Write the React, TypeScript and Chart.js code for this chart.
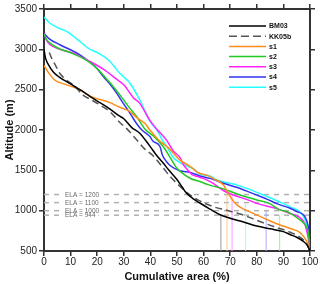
import React, { useEffect, useRef } from "react";
import { Chart, registerables } from "chart.js";

Chart.register(...registerables);

// [cumulative area %, altitude m]
const BM03: [number, number][] = [
  [0, 3000], [0.5, 2900], [1.5, 2820], [3.5, 2720], [6, 2650], [8.5, 2600], [12, 2530],
  [15, 2470], [18, 2400], [21, 2340], [24.8, 2260], [28, 2180], [30, 2140], [33, 2030],
  [36, 1960], [39.8, 1800], [42, 1700], [44.8, 1590], [47, 1500], [49.9, 1390], [52, 1290],
  [53.6, 1215], [56, 1150], [58.6, 1095], [62.4, 1020], [66.2, 950], [70, 905], [75, 860],
  [80, 810], [85, 775], [90, 740], [92.5, 705], [95, 670], [97.5, 620], [99, 570], [100, 500],
];
const KK05b: [number, number][] = [
  [2, 2960], [3, 2880], [4.5, 2790], [6, 2700], [8, 2630], [11, 2560], [14.8, 2430],
  [18, 2370], [22, 2290], [25, 2220], [28.6, 2090], [31, 2020], [34.8, 1880], [38, 1760],
  [41, 1680], [44.8, 1530], [47.5, 1420], [49.9, 1340], [52.5, 1260], [54.9, 1195],
  [58, 1130], [63.6, 1050], [68.7, 1005], [75, 945], [80, 880], [87.5, 790], [92, 740],
  [96, 675], [98.5, 600], [100, 500],
];
const S1: [number, number][] = [
  [0, 2800], [1.5, 2720], [4, 2620], [8, 2565], [13.5, 2498], [17.3, 2420], [24.8, 2340],
  [28.6, 2280], [32.3, 2229], [35, 2150], [38, 2080], [39.8, 2000], [43, 1880], [47.4, 1760],
  [51, 1630], [54.9, 1550], [58, 1470], [61.2, 1440], [64, 1390], [67.4, 1320], [69, 1230],
  [70.5, 1150], [72, 1090], [73.7, 1045], [77.4, 985], [80, 947], [83.7, 890], [88.7, 823],
  [93, 775], [96.2, 730], [98.7, 625], [100, 510],
];
const S2: [number, number][] = [
  [0, 3190], [1, 3120], [2.3, 3077], [5, 3020], [9.8, 2960], [14, 2900], [17.3, 2835],
  [20, 2760], [23.6, 2630], [26, 2540], [29.8, 2380], [32, 2280], [34.8, 2167], [38, 2010],
  [41, 1930], [44.8, 1795], [47.4, 1660], [49.9, 1530], [51.1, 1490], [54.9, 1402],
  [58.6, 1361], [62, 1320], [67.4, 1270], [73.7, 1195], [80, 1133], [85, 1085], [88.7, 1010],
  [91.2, 990], [94, 940], [96.2, 885], [97.5, 850], [99.4, 720], [100, 512],
];
const S3: [number, number][] = [
  [0, 3200], [1, 3110], [2.3, 3057], [6, 3000], [11, 2953], [17.3, 2849], [22.3, 2755],
  [27.3, 2630], [30, 2560], [33.6, 2400], [36, 2330], [39.8, 2120], [42.4, 2010], [46, 1877],
  [48.6, 1740], [51.1, 1660], [52.4, 1570], [53.6, 1520], [55.5, 1450], [58, 1420],
  [59.9, 1400], [63, 1350], [67.4, 1250], [70.7, 1200], [77.4, 1125], [80, 1090],
  [87.5, 1025], [92.5, 965], [95, 935], [98.1, 830], [99.4, 650], [100, 520],
];
const S4: [number, number][] = [
  [0, 3200], [2, 3130], [6, 3057], [13.5, 2932], [17.3, 2840], [20, 2760], [22.3, 2663],
  [25, 2560], [27.3, 2457], [30, 2320], [32.3, 2209], [34.8, 2080], [36.7, 2002],
  [39.8, 1918], [41, 1860], [43.6, 1795], [44.5, 1690], [46, 1610], [47.4, 1560],
  [51.1, 1495], [55, 1475], [58.6, 1430], [62.4, 1400], [67.4, 1340], [72.4, 1290],
  [76, 1245], [80, 1193], [84, 1140], [87.5, 1087], [92.5, 1030], [95, 990], [98.1, 926],
  [99.4, 800], [100, 653],
];
const S5: [number, number][] = [
  [0, 3400], [2, 3330], [5, 3270], [8.5, 3222], [13, 3110], [17.3, 3000], [20, 2960],
  [24.8, 2850], [28, 2720], [29.8, 2663], [32.3, 2580], [36, 2374], [39.8, 2110],
  [42.4, 2002], [44.8, 1860], [46.1, 1800], [48.6, 1660], [50, 1620], [52.4, 1570],
  [56.1, 1521], [58.6, 1455], [62.4, 1430], [65, 1381], [72.4, 1320], [76, 1280],
  [81.2, 1211], [85, 1160], [90, 1087], [93, 1040], [96.2, 984], [98.7, 830], [100, 570],
];

const seriesNames = ["BM03", "KK05b", "s1", "s2", "s3", "s4", "s5"];
const seriesData = [BM03, KK05b, S1, S2, S3, S4, S5];
const seriesColors = ["#000000", "#555555", "#ff8c1a", "#22c922", "#ff22ff", "#3333ee", "#22ffff"];

const elaValues = [1200, 1100, 1000, 944];
const elaLabels = ["ELA = 1200", "ELA = 1100", "ELA = 1000", "ELA = 944"];

const aarArea = [66.5, 68.8, 70.7, 75.8, 83.5, 88.6];
const aarAlt = [944, 1200, 1200, 1100, 1000, 944];
const aarColors = ["#9a9a9a", "#ffc890", "#ff99ff", "#99ffff", "#aaaaff", "#99ee99"];

const xTicks = [0, 100, 10];
const yTicks = [500, 3500, 500];

const FONT = "'Liberation Sans', Arial, sans-serif";

const legendPlugin = {
  id: "customLegend",
  afterDraw(chart: any) {
    const ctx = chart.ctx;
    ctx.save();
    seriesNames.forEach((name, i) => {
      const y = 26 + i * 10.2;
      ctx.beginPath();
      ctx.strokeStyle = seriesColors[i];
      ctx.lineWidth = 1.5;
      ctx.setLineDash(i === 1 ? [8, 4] : []);
      ctx.moveTo(229, y);
      ctx.lineTo(266, y);
      ctx.stroke();
      ctx.setLineDash([]);
      ctx.fillStyle = "#111";
      ctx.font = `bold 7px ${FONT}`;
      ctx.textAlign = "left";
      ctx.textBaseline = "middle";
      ctx.fillText(name, 269, y + 0.5);
    });
    ctx.restore();
  },
};

const elaLabelPlugin = {
  id: "elaLabels",
  afterDatasetsDraw(chart: any) {
    const ctx = chart.ctx;
    const yScale = chart.scales.y;
    const left = chart.chartArea.left + 21;
    ctx.save();
    ctx.font = `6.5px ${FONT}`;
    elaValues.forEach((v, i) => {
      const y = yScale.getPixelForValue(v);
      const w = ctx.measureText(elaLabels[i]).width;
      ctx.fillStyle = "#ffffff";
      ctx.fillRect(left - 3, y - 2, w + 6, 4);
    });
    ctx.fillStyle = "#6a6a6a";
    ctx.textAlign = "left";
    ctx.textBaseline = "middle";
    elaValues.forEach((v, i) => {
      const y = yScale.getPixelForValue(v);
      ctx.fillText(elaLabels[i], left, y + 0.5);
    });
    ctx.restore();
  },
};

export default function App() {
  const ref = useRef<HTMLCanvasElement>(null);
  useEffect(() => {
    document.body.style.margin = "0";
    const datasets: any[] = [];
    seriesData.forEach((d, i) => {
      datasets.push({
        label: seriesNames[i],
        data: d.map(([x, y]) => ({ x, y })),
        borderColor: seriesColors[i],
        borderWidth: 1.5,
        borderDash: i === 1 ? [7, 4] : [],
        pointRadius: 0,
        cubicInterpolationMode: "monotone",
        fill: false,
      });
    });
    aarArea.forEach((a, i) => {
      datasets.push({
        label: "aar" + i,
        data: [{ x: a, y: yTicks[0] }, { x: a, y: aarAlt[i] }],
        borderColor: aarColors[i],
        borderWidth: 1,
        pointRadius: 0,
        tension: 0,
        fill: false,
      });
    });
    elaValues.forEach((v, i) => {
      datasets.push({
        label: "ela" + i,
        data: [{ x: xTicks[0], y: v }, { x: xTicks[1], y: v }],
        borderColor: "#b0b0b0",
        borderWidth: 1.5,
        borderDash: [5, 5],
        pointRadius: 0,
        tension: 0,
        fill: false,
      });
    });

    const tickFont = { family: FONT, size: 10 };
    const grid = {
      drawOnChartArea: false,
      drawTicks: true,
      tickLength: 5,
      color: "#333",
      lineWidth: 1.5,
    };
    const border = { display: true, color: "#333", width: 2 };
    const plain = (v: any) => String(v);

    const chart = new Chart(ref.current!, {
      type: "line",
      data: { datasets },
      plugins: [elaLabelPlugin, legendPlugin],
      options: {
        responsive: false,
        animation: false,
        layout: { padding: 0 },
        plugins: { legend: { display: false }, tooltip: { enabled: false } },
        scales: {
          x: {
            type: "linear",
            position: "bottom",
            min: xTicks[0],
            max: xTicks[1],
            ticks: { stepSize: xTicks[2], font: tickFont, color: "#222", padding: 0, autoSkip: false, maxRotation: 0, callback: plain },
            grid,
            border,
            title: {
              display: true,
              text: "Cumulative area (%)",
              font: { family: FONT, size: 11, weight: "bold" },
              color: "#111",
              padding: { top: 0, bottom: 0 },
            },
            afterFit: (s: any) => { s.height = 33; },
          },
          x2: {
            type: "linear",
            position: "top",
            min: xTicks[0],
            max: xTicks[1],
            ticks: { stepSize: xTicks[2], display: false },
            grid,
            border,
            afterFit: (s: any) => { s.height = 9; },
          },
          y: {
            type: "linear",
            position: "left",
            min: yTicks[0],
            max: yTicks[1],
            ticks: { stepSize: yTicks[2], font: tickFont, color: "#222", padding: 2, callback: plain },
            grid,
            border,
            title: {
              display: true,
              text: "Altitude (m)",
              font: { family: FONT, size: 11, weight: "bold" },
              color: "#111",
              padding: { top: 3, bottom: 0 },
            },
            afterFit: (s: any) => { s.width = 44; },
          },
          y2: {
            type: "linear",
            position: "right",
            min: yTicks[0],
            max: yTicks[1],
            ticks: { stepSize: yTicks[2], display: false },
            grid,
            border,
            afterFit: (s: any) => { s.width = 10; },
          },
        },
      } as any,
    });
    return () => chart.destroy();
  }, []);
  return (
    <div style={{ width: 320, height: 284 }}>
      <canvas ref={ref} width={320} height={284} />
    </div>
  );
}
